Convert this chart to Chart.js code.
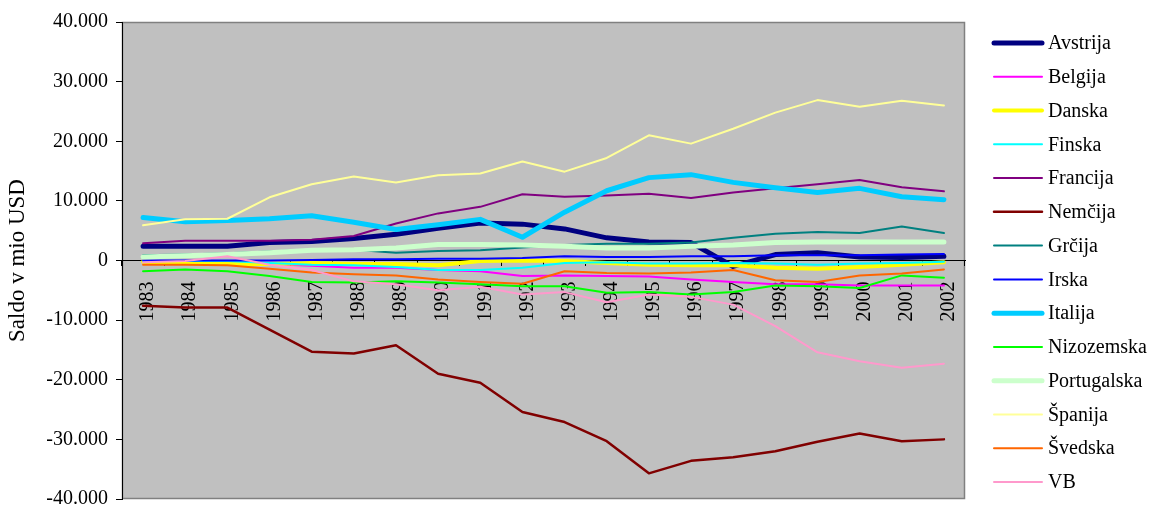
<!DOCTYPE html>
<html>
<head>
<meta charset="utf-8">
<script src="https://cdn.jsdelivr.net/npm/chart.js@4/dist/chart.umd.min.js"></script>
<style>
html,body{margin:0;padding:0;background:#fff;}
#wrap{width:1156px;height:506px;position:relative;}
</style>
</head>
<body>
<div id="wrap"><canvas id="c" width="1156" height="506"></canvas></div>
<script>
const years = ['1983','1984','1985','1986','1987','1988','1989','1990','1991','1992','1993','1994','1995','1996','1997','1998','1999','2000','2001','2002'];
const yTicks = [-40000,-30000,-20000,-10000,0,10000,20000,30000,40000];
const countries = ['Avstrija','Belgija','Danska','Finska','Francija','Nemčija','Grčija','Irska','Italija','Nizozemska','Portugalska','Španija','Švedska','VB'];
const avstrija   = [2400,2400,2400,3000,3200,3700,4400,5400,6300,6100,5300,3800,3100,3000,-1000,1000,1300,600,500,700];
const belgija    = [-300,-300,-300,-600,-900,-1200,-1200,-1600,-1800,-2600,-2500,-2600,-2700,-3200,-3600,-4000,-4000,-4200,-4200,-4200];
const danska     = [-200,-400,-600,-600,-400,-600,-600,-800,-100,0,-100,-400,-700,-800,-800,-1200,-1400,-1100,-700,-300];
const finska     = [-100,-100,-100,-400,-700,-800,-1100,-1600,-1600,-1200,-400,-300,-500,-500,-400,-500,-700,-500,-400,-200];
const francija   = [2900,3300,3300,3300,3500,4100,6200,7900,9000,11100,10700,10900,11200,10500,11400,12100,12800,13500,12300,11600];
const nemcija    = [-7600,-7900,-7900,-11600,-15300,-15600,-14200,-19000,-20500,-25400,-27100,-30300,-35700,-33600,-33000,-32000,-30400,-29000,-30300,-30000];
const grcija     = [900,1000,1200,1500,1800,1800,1300,1600,1700,2200,2600,2800,2800,3000,3800,4500,4800,4600,5700,4600];
const irska      = [0,0,0,0,100,200,200,300,300,400,700,600,600,700,700,900,900,900,1000,1100];
const italija    = [7200,6500,6700,7000,7500,6400,5200,6000,6900,3900,8100,11700,13900,14400,13100,12200,11400,12100,10700,10200];
const nizozemska = [-1800,-1500,-1800,-2600,-3600,-3700,-3500,-3700,-4000,-4300,-4300,-5400,-5300,-5700,-5300,-4200,-4300,-4600,-2500,-2900];
const portugalska= [600,800,1000,1300,1700,1800,2100,2700,2700,2600,2400,2100,2100,2400,2600,3000,3100,3100,3100,3100];
const spanija    = [5900,6900,7000,10600,12800,14100,13100,14300,14600,16600,14900,17200,21000,19600,22100,24800,26900,25800,26800,26000];
const svedska    = [-700,-700,-800,-1400,-2000,-2300,-2500,-3200,-3600,-3900,-1800,-2100,-2200,-2000,-1600,-3300,-3600,-2500,-2200,-1500];
const vb         = [-300,-100,700,-700,-1600,-3500,-4000,-5000,-4400,-5700,-5300,-7000,-5700,-6100,-7400,-11000,-15400,-16900,-18000,-17300];

const seriesValues = [avstrija,belgija,danska,finska,francija,nemcija,grcija,irska,italija,nizozemska,portugalska,spanija,svedska,vb];
const colors = ['#000080','#FF00FF','#FFFF00','#00FFFF','#800080','#800000','#008080','#0000FF','#00CCFF','#00FF00','#CCFFCC','#FFFF99','#FF6600','#FF99CC'];
const widths = [5,2,4,2,2,2.5,2,2,5,2,5,2,2,2];

const FONT = '"Liberation Serif", "Times New Roman", serif';

function fmt(v){
  const neg = v < 0; let s = String(Math.abs(v));
  s = s.replace(/\B(?=(\d{3})+(?!\d))/g, '.');
  return (neg ? '-' : '') + s;
}

const datasets = countries.map((name, i) => ({
  label: name,
  data: seriesValues[i],
  borderColor: colors[i],
  backgroundColor: colors[i],
  borderWidth: widths[i],
  pointRadius: 0,
  pointHoverRadius: 0,
  tension: 0,
  fill: false,
  order: -i,
  borderCapStyle: 'round',
  borderJoinStyle: 'round'
}));

const plotBg = {
  id: 'plotBg',
  beforeDraw(chart){
    const {ctx, chartArea:a} = chart;
    ctx.save();
    ctx.fillStyle = '#C0C0C0';
    ctx.fillRect(a.left, a.top, a.right - a.left, a.bottom - a.top);
    ctx.strokeStyle = '#808080';
    ctx.lineWidth = 1.5;
    ctx.strokeRect(a.left + 0.5, a.top + 0.5, a.right - a.left - 1, a.bottom - a.top - 1);
    ctx.restore();
  }
};

const customLegend = {
  id: 'customLegend',
  afterDraw(chart){
    const ctx = chart.ctx;
    ctx.save();
    ctx.font = '20px ' + FONT;
    ctx.textBaseline = 'middle';
    ctx.textAlign = 'left';
    chart.data.datasets.forEach((ds, i) => {
      const y = 43 + i * 33.77;
      ctx.strokeStyle = ds.borderColor;
      ctx.lineWidth = ds.borderWidth;
      ctx.lineCap = 'round';
      ctx.beginPath();
      ctx.moveTo(994, y);
      ctx.lineTo(1042, y);
      ctx.stroke();
      ctx.fillStyle = '#000';
      ctx.fillText(ds.label, 1048, y + 1);
    });
    ctx.restore();
  }
};

new Chart(document.getElementById('c'), {
  type: 'line',
  data: { labels: years, datasets },
  plugins: [plotBg, customLegend],
  options: {
    responsive: false,
    animation: false,
    devicePixelRatio: 1,
    layout: { padding: { top: 22, bottom: 7, left: 0, right: 191 } },
    plugins: { legend: { display: false }, tooltip: { enabled: false } },
    scales: {
      x: {
        type: 'category',
        position: { y: 0 },
        offset: true,
        z: 1,
        grid: { offset: true, drawOnChartArea: false, drawTicks: true, tickLength: 5, color: '#000', tickColor: '#000' },
        border: { display: true, color: '#000', width: 1 },
        ticks: { minRotation: 90, maxRotation: 90, autoSkip: false, padding: 16, labelOffset: 5, color: '#000', font: { family: FONT, size: 20 } },
        afterFit(s){ s.paddingLeft = 0; s.paddingRight = 0; s.paddingTop = 0; s.paddingBottom = 0; }
      },
      y: {
        min: -40000,
        max: 40000,
        afterBuildTicks(s){ s.ticks = yTicks.map(v => ({ value: v })); },
        afterFit(s){ s.width = 122; s.paddingTop = 0; s.paddingBottom = 0; },
        grid: { drawOnChartArea: false, drawTicks: true, tickLength: 6, color: '#000', tickColor: '#000' },
        border: { display: true, color: '#000', width: 1 },
        ticks: { padding: 8, color: '#000', font: { family: FONT, size: 20 }, callback: v => fmt(v) },
        title: { display: true, text: 'Saldo v mio USD', color: '#000', font: { family: FONT, size: 23 }, padding: { top: 4, bottom: 0 } }
      }
    }
  }
});
</script>
</body>
</html>
